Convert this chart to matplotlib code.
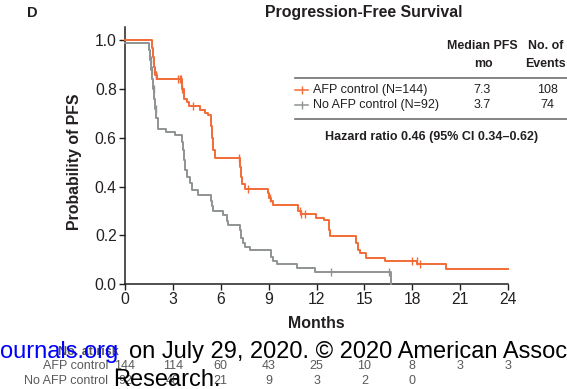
import numpy as np
import matplotlib
matplotlib.use("Agg")
import matplotlib.pyplot as plt
from matplotlib.lines import Line2D

plt.rcParams['font.family'] = ['Liberation Sans', 'DejaVu Sans']

# ---- Kaplan-Meier step data (months, survival) ----
afp_time = [0, 1.67, 1.75, 1.82, 1.9, 1.98, 3.55, 3.7, 3.86, 4.0, 4.7, 5.0, 5.2, 5.39,
            5.45, 5.52, 5.64, 7.2, 7.28, 7.36, 7.5, 8.95, 9.05, 9.15, 9.25, 10.86, 11.0,
            11.97, 12.49, 12.8, 12.85, 14.5, 14.6, 14.7, 15.1, 16.3, 18.3, 20.1]
afp_surv = [1.0, 0.97, 0.93, 0.89, 0.86, 0.843, 0.80, 0.761, 0.747, 0.73, 0.715, 0.70,
            0.693, 0.65, 0.60, 0.55, 0.518, 0.48, 0.44, 0.41, 0.392, 0.375, 0.355, 0.34,
            0.324, 0.30, 0.286, 0.272, 0.262, 0.22, 0.197, 0.17, 0.14, 0.128, 0.105,
            0.094, 0.081, 0.063]
afp_end = 24.0

noafp_time = [0, 1.5, 1.58, 1.65, 1.72, 1.78, 1.84, 1.9, 1.96, 2.05, 2.6, 3.13, 3.55,
              3.62, 3.68, 3.76, 3.9, 4.07, 4.2, 4.6, 5.37, 5.45, 5.53, 6.16, 6.37, 6.48,
              7.2, 7.3, 7.4, 7.52, 7.83, 9.13, 9.25, 9.5, 10.76, 11.9, 16.67]
noafp_surv = [0.989, 0.96, 0.92, 0.88, 0.84, 0.80, 0.76, 0.72, 0.68, 0.638, 0.624, 0.61,
              0.583, 0.55, 0.51, 0.467, 0.44, 0.413, 0.385, 0.365, 0.34, 0.32, 0.30,
              0.283, 0.26, 0.242, 0.22, 0.19, 0.17, 0.153, 0.139, 0.11, 0.095, 0.082,
              0.064, 0.05, 0.0]
noafp_end = 16.67

# censoring times
afp_cens = [1.92, 1.96, 3.35, 3.45, 3.52, 3.6, 4.24, 7.17, 7.73, 9.1, 10.95, 11.02,
            11.3, 18.0, 18.27, 18.5]
noafp_cens = [1.62, 1.7, 1.82, 1.92, 12.9, 16.56]

# summary table
groups = ["AFP control (N=144)", "No AFP control (N=92)"]
median_pfs = ["7.3", "3.7"]
n_events = ["108", "74"]
hazard_text = "Hazard ratio 0.46 (95% CI 0.34\u20130.62)"

# number at risk
risk_months = [0, 3, 6, 9, 12, 15, 18, 21, 24]
risk_names = ["AFP control", "No AFP control"]
risk_afp = [144, 114, 60, 43, 25, 10, 8, 3, 3]
risk_noafp = [92, 48, 21, 9, 3, 2, 0]

ORANGE = "#F26A35"
GRAY = "#8E9394"
TXT = "#231F20"

W, H = 567, 389
fig = plt.figure(figsize=(W / 100, H / 100), dpi=100)


def fx(x):
    return x / W


def fy(y):
    return 1 - y / H


ax = fig.add_axes([fx(125), fy(284), fx(508) - fx(125), fy(27) - fy(284)])


def step_value(times, surv, t):
    i = np.searchsorted(np.asarray(times), t, side="right") - 1
    return np.asarray(surv)[i]


for times, surv, end, cens, col in [
        (afp_time, afp_surv, afp_end, afp_cens, ORANGE),
        (noafp_time, noafp_surv, noafp_end, noafp_cens, GRAY)]:
    tt = list(times) + [end]
    ss = list(surv) + [surv[-1]]
    ax.step(tt, ss, where="post", color=col, lw=1.4, clip_on=False, zorder=3)
    cs = [step_value(times, surv, c) for c in cens]
    ax.plot(cens, cs, ls="none", marker="|", ms=6, mew=1.0, color=col, zorder=4,
            clip_on=False)

ax.set_xlim(0, 24)
ax.set_ylim(0, 1.055)
ax.set_xticks(risk_months)
ax.set_yticks([0, 0.2, 0.4, 0.6, 0.8, 1.0])
ax.set_yticklabels(["0.0", "0.2", "0.4", "0.6", "0.8", "1.0"])
for s in ["top", "right"]:
    ax.spines[s].set_visible(False)
for s in ["left", "bottom"]:
    ax.spines[s].set_linewidth(1.1)
    ax.spines[s].set_color(TXT)
ax.tick_params(axis="both", length=4, width=1.0, color=TXT, labelsize=11.3,
               labelcolor=TXT, pad=2)

# titles / labels
fig.text(fx(32), fy(13), "D", fontsize=10.5, fontweight="bold", color=TXT,
         ha="center", va="center")
fig.text(fx(364), fy(13), "Progression-Free Survival", fontsize=11.4,
         fontweight="bold", color=TXT, ha="center", va="center")
fig.text(fx(75), fy(162), "Probability of PFS", fontsize=11.4, fontweight="bold",
         color=TXT, rotation=90, ha="center", va="center")
fig.text(fx(316), fy(324), "Months", fontsize=11.4, fontweight="bold", color=TXT,
         ha="center", va="center")

# summary table
HS = 8.9
fig.text(fx(482), fy(46), "Median PFS", fontsize=HS, fontweight="bold", color=TXT,
         ha="center", va="center")
fig.text(fx(483), fy(64), "mo", fontsize=HS, fontweight="bold", color=TXT,
         ha="center", va="center")
fig.text(fx(546), fy(46), "No. of", fontsize=HS, fontweight="bold", color=TXT,
         ha="center", va="center")
fig.text(fx(545), fy(64), "Events", fontsize=HS, fontweight="bold", color=TXT,
         ha="center", va="center")
for yy in (77.7, 119.3):
    fig.add_artist(Line2D([fx(295), fx(567)], [fy(yy), fy(yy)], color="#6D6E71",
                          lw=1.2))
for i, (name, med, ev, col) in enumerate(zip(groups, median_pfs, n_events,
                                             [ORANGE, GRAY])):
    yy = 90 + 15 * i
    fig.add_artist(Line2D([fx(295), fx(308)], [fy(yy), fy(yy)], color=col, lw=1.1))
    fig.add_artist(Line2D([fx(301.5)], [fy(yy)], color=col, marker="|", ms=6,
                          mew=1.0, ls="none"))
    fig.text(fx(313), fy(yy), name, fontsize=9, color=TXT, ha="left", va="center")
    fig.text(fx(482), fy(yy), med, fontsize=9, color=TXT, ha="center", va="center")
    fig.text(fx(547), fy(yy), ev, fontsize=9, color=TXT, ha="center", va="center")
fig.text(fx(432), fy(137), hazard_text, fontsize=9, fontweight="bold",
         color=TXT, ha="center", va="center")

# number at risk table
RISK = "#58595B"
RS = 9
fig.text(fx(119), fy(352), "No. at risk", fontsize=RS, fontweight="bold",
         color=RISK, ha="right", va="center")
for name, vals, yy in zip(risk_names, [risk_afp, risk_noafp], [366, 381]):
    fig.text(fx(108), fy(yy), name, fontsize=RS, color=RISK, ha="right",
             va="center")
    for m, v in zip(risk_months, vals):
        ax.annotate(str(v), xy=(m, 0), xycoords=("data", "axes fraction"),
                    xytext=(0, -(yy - 284) * 72 / 100), textcoords="offset points",
                    fontsize=RS, color=RISK, ha="center", va="center",
                    annotation_clip=False)

# download stamp overlaid at the bottom
fig.text(0.0, fy(358), "ournals.org", fontsize=17, color="#0000FF",
         ha="left", va="baseline", zorder=10)
fig.text(fx(129), fy(358), "on July 29, 2020. \u00a9 2020 American Association for Cancer",
         fontsize=17, color="black", ha="left", va="baseline", zorder=10)
fig.text(fx(113), fy(386), "Research.", fontsize=17, color="black", ha="left",
         va="baseline", zorder=10)

fig.savefig("out.png", dpi=100)
